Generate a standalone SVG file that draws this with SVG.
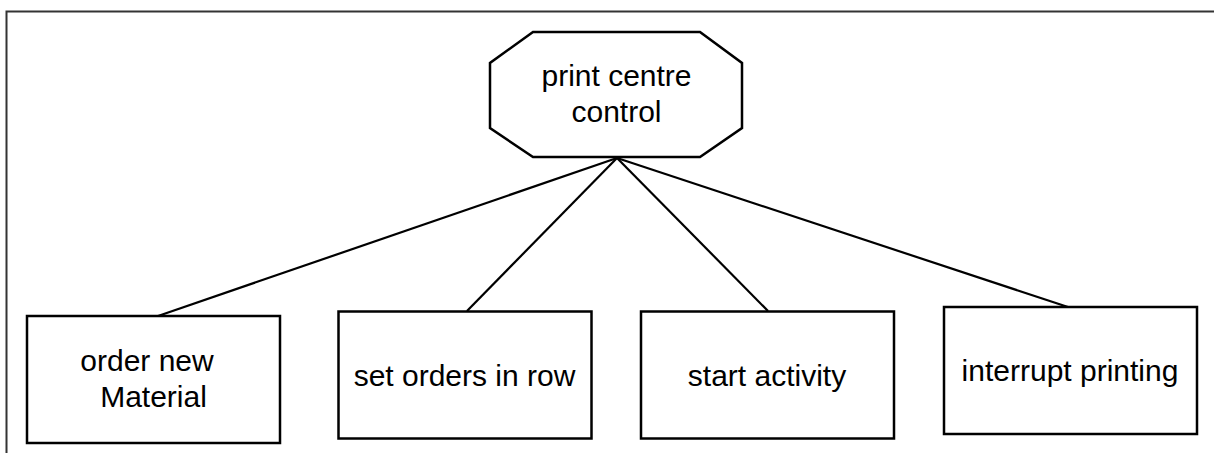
<svg xmlns="http://www.w3.org/2000/svg" width="1214" height="453" viewBox="0 0 1214 453">
<style>
.box{fill:#fff;stroke:#000;stroke-width:2.5}
.conn line{stroke:#000;stroke-width:2.2}
text{font-family:"Liberation Sans",Arial,sans-serif;font-size:30px;fill:#000;text-anchor:middle}
</style>
<rect width="1214" height="453" fill="#fff"/>
<g id="frame">
<polyline points="6.5,453 6.5,11.5 1214,11.5" fill="none" stroke="#333" stroke-width="2"/>
</g>
<g class="conn" id="connectors">
<line x1="617" y1="158" x2="158" y2="316"/>
<line x1="617" y1="158" x2="467" y2="311"/>
<line x1="617" y1="158" x2="768" y2="311"/>
<line x1="617" y1="158" x2="1068" y2="307"/>
</g>
<g id="root">
<polygon class="box" points="533,32 700,32 742,63 742,128 700,157 533,157 490,128 490,63"/>
<text x="616.5" y="86">print centre</text>
<text x="616.5" y="122">control</text>
</g>
<g id="n1">
<rect class="box" x="27" y="316" width="253" height="127"/>
<text x="147" y="371">order new</text>
<text x="153.5" y="407">Material</text>
</g>
<g id="n2">
<rect class="box" x="338.5" y="311.5" width="253" height="127"/>
<text x="464.5" y="386">set orders in row</text>
</g>
<g id="n3">
<rect class="box" x="641" y="311.5" width="253" height="127"/>
<text x="767" y="386">start activity</text>
</g>
<g id="n4">
<rect class="box" x="944" y="307" width="253" height="127"/>
<text x="1070" y="381">interrupt printing</text>
</g>
</svg>
